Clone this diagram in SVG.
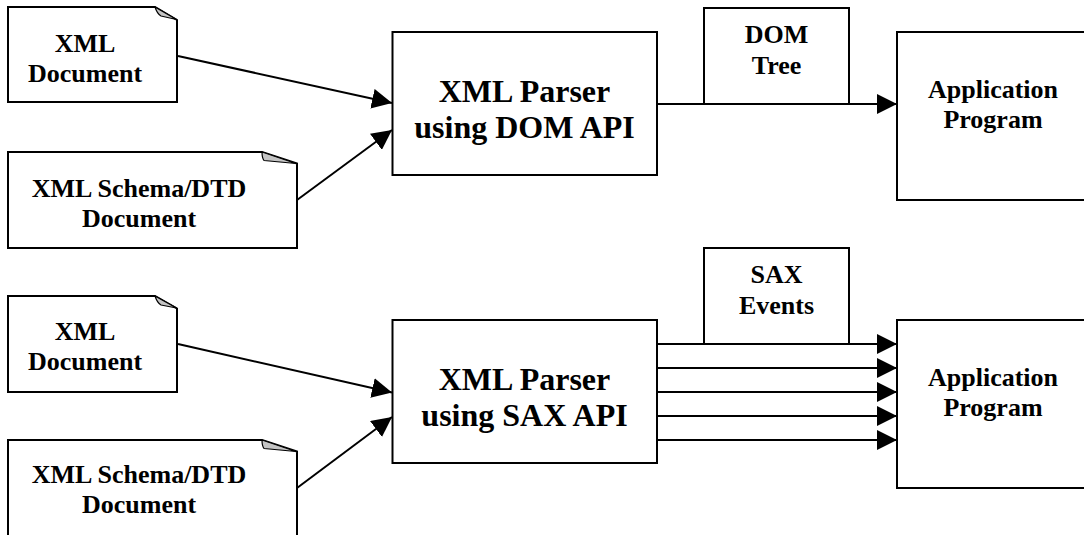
<svg xmlns="http://www.w3.org/2000/svg" width="1084" height="535" viewBox="0 0 1084 535">
  <defs>
    <style>
      .box { fill: #ffffff; stroke: #000000; stroke-width: 2; }
      .flap { fill: #c4c4c4; stroke: #000000; stroke-width: 1.2; stroke-linejoin: round; }
      .wire { fill: none; stroke: #000000; stroke-width: 2; }
      .lbl { font-family: "Liberation Serif", "Times New Roman", serif; font-weight: bold; font-size: 26px; text-anchor: middle; fill: #000000; }
      .big { font-size: 32px; }
    </style>
    <marker id="head" markerUnits="userSpaceOnUse" markerWidth="20" markerHeight="20" refX="20" refY="10" orient="auto" viewBox="0 0 20 20">
      <path d="M0,0 L20,10 L0,20 Z" fill="#000000"/>
    </marker>
  </defs>

  <rect width="1084" height="535" fill="#ffffff"/>

  <!-- Connectors -->
  <g id="connectors">
    <!-- DOM pipeline -->
    <line class="wire" x1="178" y1="56" x2="392" y2="103" marker-end="url(#head)"/>
    <line class="wire" x1="297" y1="200" x2="392" y2="130" marker-end="url(#head)"/>
    <line class="wire" x1="657" y1="104" x2="897" y2="104" marker-end="url(#head)"/>
    <!-- SAX pipeline -->
    <line class="wire" x1="178" y1="344" x2="392" y2="392.5" marker-end="url(#head)"/>
    <line class="wire" x1="297" y1="488" x2="392" y2="417" marker-end="url(#head)"/>
    <line class="wire" x1="657" y1="344" x2="897" y2="344" marker-end="url(#head)"/>
    <line class="wire" x1="657" y1="368" x2="897" y2="368" marker-end="url(#head)"/>
    <line class="wire" x1="657" y1="392" x2="897" y2="392" marker-end="url(#head)"/>
    <line class="wire" x1="657" y1="416" x2="897" y2="416" marker-end="url(#head)"/>
    <line class="wire" x1="657" y1="440" x2="897" y2="440" marker-end="url(#head)"/>
  </g>

  <!-- DOM pipeline nodes -->
  <g id="dom-xml-document">
    <path class="box" d="M8,7 H155 L177,20 V102 H8 Z"/>
    <path class="flap" d="M155,7 Q157,13.5 161,16 L176.5,19.5 Z"/>
    <text class="lbl" x="85" y="52">XML</text>
    <text class="lbl" x="85" y="82">Document</text>
  </g>

  <g id="dom-schema-document">
    <path class="box" d="M8,152 H262 L297,163.5 V248 H8 Z"/>
    <path class="flap" d="M262,152 Q262,158 264,160.5 L296,163.5 Z"/>
    <text class="lbl" x="139" y="197">XML Schema/DTD</text>
    <text class="lbl" x="139" y="227">Document</text>
  </g>

  <g id="dom-parser">
    <rect class="box" x="392.5" y="32" width="264.5" height="143"/>
    <text class="lbl big" x="524.5" y="102">XML Parser</text>
    <text class="lbl big" x="524.5" y="138">using DOM API</text>
  </g>

  <g id="dom-tree">
    <rect class="box" x="704" y="8" width="145" height="96"/>
    <text class="lbl" x="776.5" y="43">DOM</text>
    <text class="lbl" x="776.5" y="74">Tree</text>
  </g>

  <g id="dom-application">
    <rect class="box" x="897" y="32" width="200" height="168"/>
    <text class="lbl" x="993" y="98">Application</text>
    <text class="lbl" x="993" y="128">Program</text>
  </g>

  <!-- SAX pipeline nodes -->
  <g id="sax-xml-document">
    <path class="box" d="M8,296 H155 L177,308.5 V392 H8 Z"/>
    <path class="flap" d="M155,296 Q157,302.5 161,305 L176.5,308 Z"/>
    <text class="lbl" x="85" y="340">XML</text>
    <text class="lbl" x="85" y="370">Document</text>
  </g>

  <g id="sax-schema-document">
    <path class="box" d="M8,440 H262 L297,451.5 V545 H8 Z"/>
    <path class="flap" d="M262,440 Q262,446 264,448.5 L296,451.5 Z"/>
    <text class="lbl" x="139" y="483">XML Schema/DTD</text>
    <text class="lbl" x="139" y="513">Document</text>
  </g>

  <g id="sax-parser">
    <rect class="box" x="392.5" y="320" width="264.5" height="143"/>
    <text class="lbl big" x="524.5" y="390">XML Parser</text>
    <text class="lbl big" x="524.5" y="426">using SAX API</text>
  </g>

  <g id="sax-events">
    <rect class="box" x="704" y="248" width="145" height="96"/>
    <text class="lbl" x="776.5" y="283">SAX</text>
    <text class="lbl" x="776.5" y="314">Events</text>
  </g>

  <g id="sax-application">
    <rect class="box" x="897" y="320" width="200" height="168"/>
    <text class="lbl" x="993" y="386">Application</text>
    <text class="lbl" x="993" y="416">Program</text>
  </g>
</svg>
